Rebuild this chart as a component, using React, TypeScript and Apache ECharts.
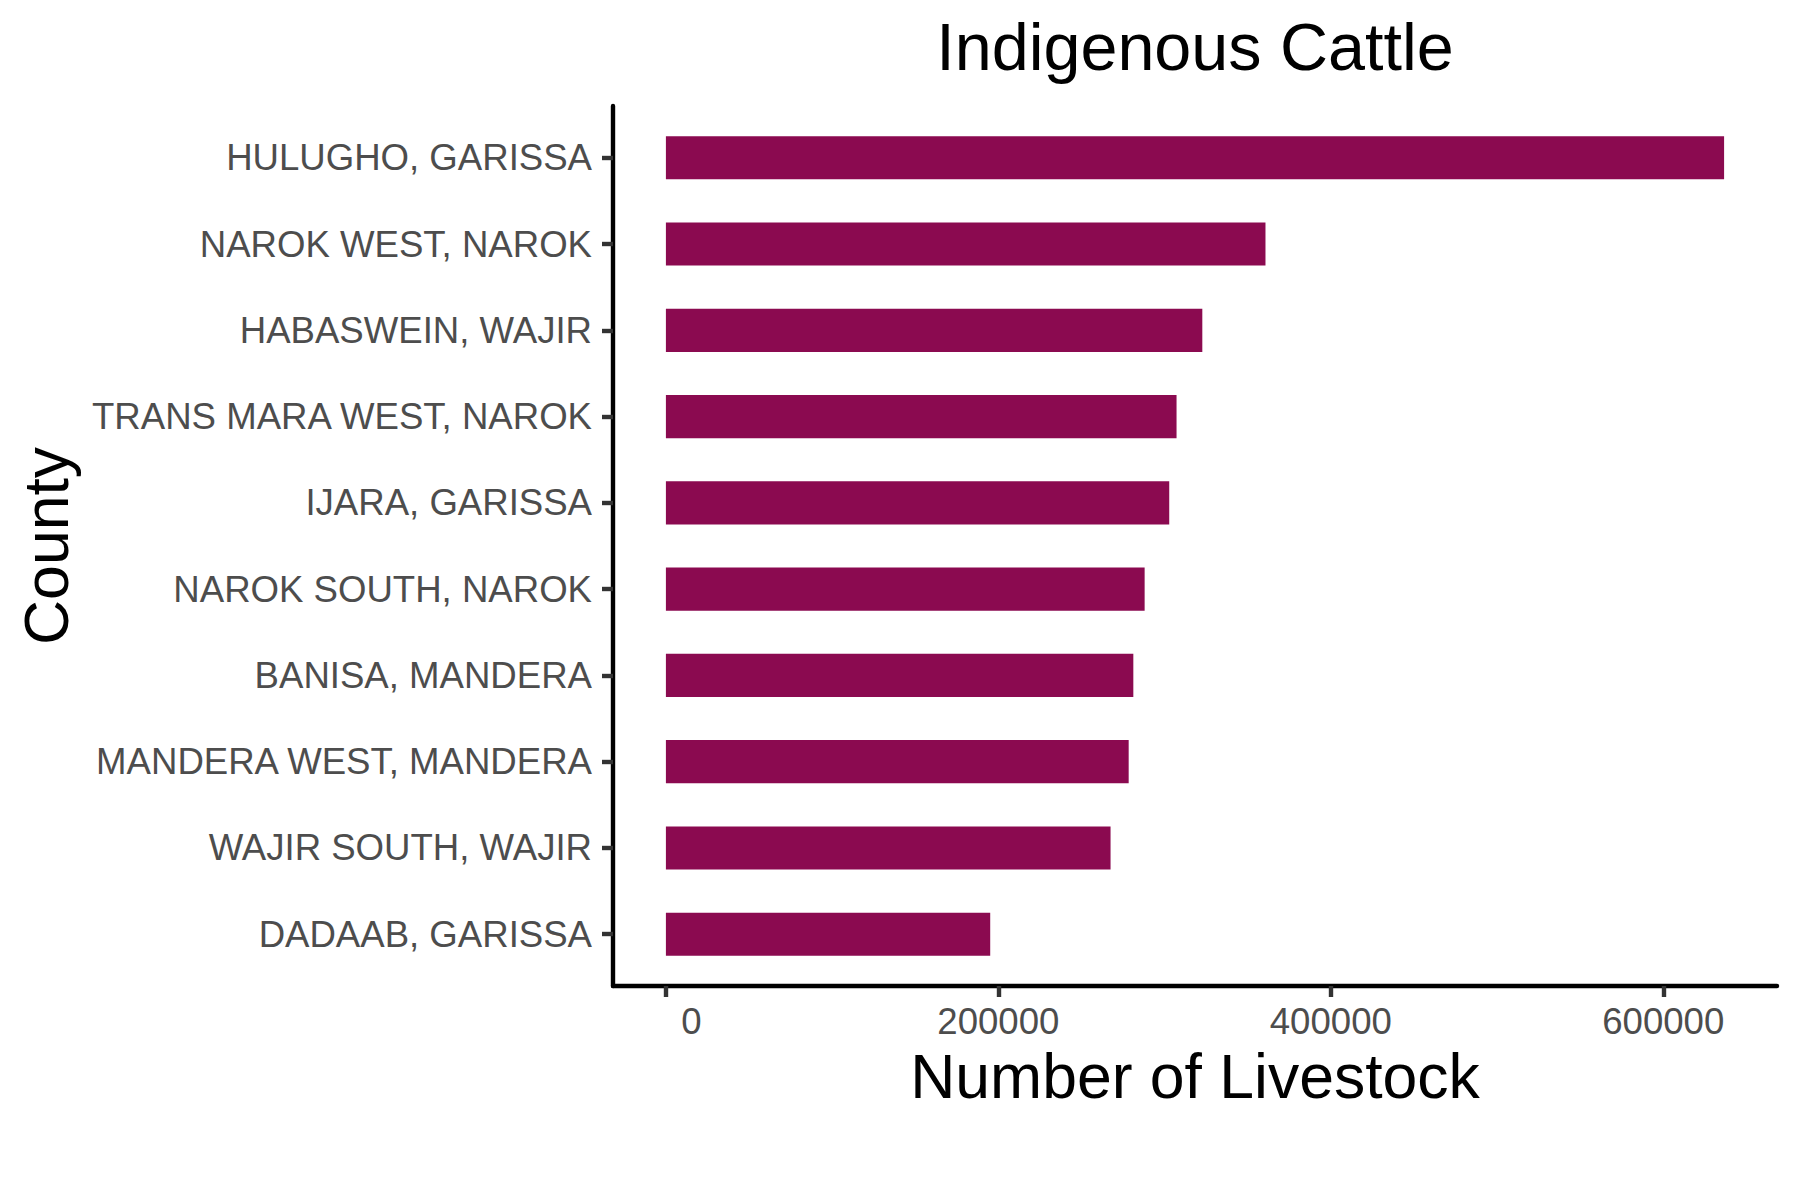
import React, { useEffect, useRef } from 'react';
import * as echarts from 'echarts';

const categories = [
  'HULUGHO, GARISSA',
  'NAROK WEST, NAROK',
  'HABASWEIN, WAJIR',
  'TRANS MARA WEST, NAROK',
  'IJARA, GARISSA',
  'NAROK SOUTH, NAROK',
  'BANISA, MANDERA',
  'MANDERA WEST, MANDERA',
  'WAJIR SOUTH, WAJIR',
  'DADAAB, GARISSA',
];
const values = [636600, 360700, 322700, 307200, 302800, 288000, 281200, 278400, 267500, 195100];
const xTicks = [0, 200000, 400000, 600000];
const chartTitle = 'Indigenous Cattle';
const xName = 'Number of Livestock';
const yName = 'County';

export default function App() {
  const ref = useRef<HTMLDivElement>(null);
  useEffect(() => {
    document.body.style.margin = '0';
    const chart = echarts.init(ref.current!, null, { renderer: 'svg' });
    const maxV = Math.max(...values);
    const pad = maxV * 0.05;
    const n = categories.length;
    const font = "'Liberation Sans', Arial, Helvetica, sans-serif";
    const W = 1800;
    const grid = { left: 613, right: 23, top: 106, bottom: 214 };
    const labelWidth = Math.max(...xTicks.map((t) => String(t).length));
    const barColor = '#8B0A50';

    chart.setOption({
      animation: false,
      backgroundColor: '#ffffff',
      grid: { ...grid, containLabel: false },
      graphic: [
        {
          type: 'text',
          x: grid.left + (W - grid.left - grid.right) / 2,
          y: 13,
          style: {
            text: chartTitle,
            fontSize: 66.5,
            fontFamily: font,
            fill: '#000000',
            textAlign: 'center',
            textVerticalAlign: 'top',
          },
        },
      ],
      xAxis: {
        type: 'value',
        min: -pad,
        max: maxV + pad,
        name: xName,
        nameLocation: 'middle',
        nameGap: 58,
        nameTextStyle: { fontSize: 62.5, color: '#000000', fontFamily: font },
        axisLine: { show: true, onZero: false, lineStyle: { color: '#000000', width: 4.4 } },
        axisTick: {
          show: true,
          length: 11,
          customValues: xTicks,
          lineStyle: { color: '#333333', width: 4.4 },
        },
        axisLabel: {
          customValues: xTicks,
          margin: 17,
          fontSize: 36.6,
          color: '#4D4D4D',
          fontFamily: font,
          formatter: (v: number) => String(v).padStart(labelWidth, '\u00A0'),
        },
        splitLine: { show: false },
      },
      yAxis: {
        type: 'value',
        inverse: true,
        min: -0.6,
        max: n - 1 + 0.6,
        name: yName,
        nameLocation: 'middle',
        nameGap: 536,
        nameTextStyle: { fontSize: 62.5, color: '#000000', fontFamily: font },
        axisLine: { show: true, onZero: false, lineStyle: { color: '#000000', width: 4.4 } },
        axisTick: {
          show: true,
          length: 11,
          customValues: categories.map((_, i) => i),
          lineStyle: { color: '#333333', width: 4.4 },
        },
        axisLabel: {
          customValues: categories.map((_, i) => i),
          margin: 21,
          fontSize: 36.6,
          color: '#4D4D4D',
          fontFamily: font,
          formatter: (v: number) => categories[Math.round(v)] ?? '',
        },
        splitLine: { show: false },
      },
      series: [
        {
          type: 'custom',
          data: values.map((v, i) => [v, i]),
          encode: { x: 0, y: 1 },
          renderItem: (params: any, api: any) => {
            const v = api.value(0);
            const i = api.value(1);
            const start = api.coord([0, i]);
            const end = api.coord([v, i]);
            const h = api.size([0, 1])[1] * 0.5;
            return {
              type: 'rect',
              shape: { x: start[0], y: start[1] - h / 2, width: end[0] - start[0], height: h },
              style: { fill: barColor },
            };
          },
        },
      ],
    });
    return () => chart.dispose();
  }, []);
  return <div ref={ref} style={{ width: 1800, height: 1200 }} />;
}
